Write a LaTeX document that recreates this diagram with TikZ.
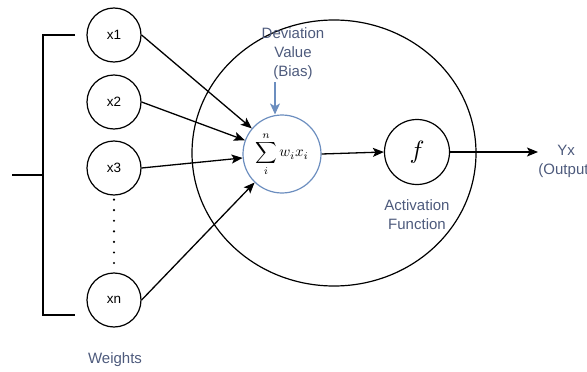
\documentclass[tikz,border=0pt]{standalone}
\usepackage{graphicx}
\usepackage{fontspec}
\setmainfont{Liberation Sans}
\usetikzlibrary{arrows.meta,shapes.geometric}
\definecolor{txt}{HTML}{4D5A7C}
\definecolor{bluestroke}{HTML}{6C8EBF}
\tikzset{
  inp/.style={circle,draw,line width=1.2pt,minimum size=54pt,inner sep=0pt,font=\fontsize{13.5}{15}\selectfont},
  lbl/.style={text=txt,align=center,font=\fontsize{15}{19}\selectfont,inner sep=0pt},
  arr/.style={line width=1.3pt,-{Stealth[length=11pt,width=9pt,inset=2.5pt]}},
  brk/.style={line width=2.6pt},
}
\begin{document}
\begin{tikzpicture}[x=1pt,y=-1pt]
\useasboundingbox (0,0) rectangle (587,372);
% big ellipse
\node[ellipse,draw,line width=1.2pt,minimum width=284pt,minimum height=266pt,inner sep=0pt] (big) at (334,153) {};
% inputs
\node[inp] (x1) at (114,35) {x1};
\node[inp] (x2) at (114,102) {x2};
\node[inp] (x3) at (114,168) {x3};
\node[inp] (xn) at (114,300) {xn};
\draw[line width=2.4pt,line cap=round,dash pattern=on 0pt off 10.57pt] ([yshift=-4pt]x3.south) -- (xn.north);
% bracket
\coordinate (bt) at (43,35);
\coordinate (bb) at (43,315);
\coordinate (bm) at (43,175);
\draw[brk] (75,35) -- (bt) -- (bb) -- (75,315);
\draw[brk] (12,175) -- (bm);
% sum and activation
\node[circle,draw=bluestroke,line width=1.2pt,minimum size=78pt,inner sep=0pt] (sum) at (282,154) {\scalebox{1.5}{$\displaystyle\sum_{i}^{n} w_i x_i$}};
\node[circle,draw,line width=1.2pt,minimum size=65pt,inner sep=0pt] (f) at (417,152) {\scalebox{2.5}{$f$}};
\coordinate (out) at (538,152);
% connectors
\draw[arr] (x1.east) -- (sum);
\draw[arr] (x2.east) -- (sum);
\draw[arr] (x3.east) -- (sum);
\draw[arr] (xn.east) -- (sum);
\draw[arr] (sum.east) -- (f.west);
\draw[arr] (f.east) -- (out);
% bias
\node[lbl] (bias) at (293,54) {Deviation\\Value\\(Bias)};
\coordinate (bs) at (275,82);
\draw[line width=1.2pt,draw=bluestroke,-{Stealth[length=11pt,width=10pt,inset=3pt,fill=bluestroke]}] (bs) -- (bs |- sum.north);
% labels
\node[lbl] (act) at (417,215) {Activation\\Function};
\node[lbl] (wts) at (115,360) {Weights};
\node[lbl] (yx) at (566,161) {Yx\\(Output)};
\end{tikzpicture}
\end{document}
